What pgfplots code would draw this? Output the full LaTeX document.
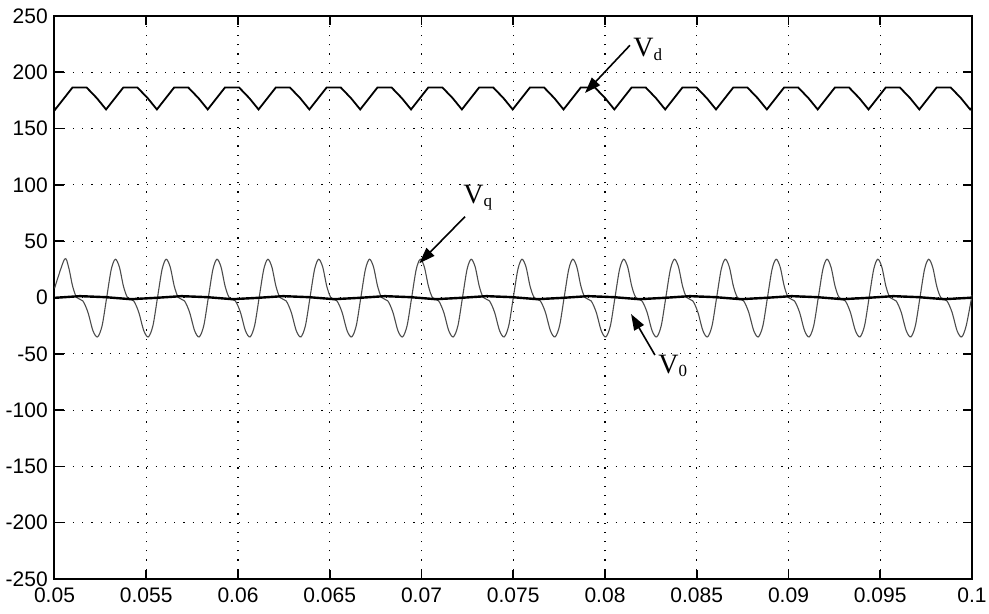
\documentclass[border=0pt]{standalone}
\usepackage{fontspec}
\setmainfont{Liberation Sans}
\newfontfamily\tnr{Liberation Serif}
\usepackage{pgfplots}
\pgfplotsset{compat=1.18}
\usetikzlibrary{arrows.meta}

\newcommand{\lbl}[2]{{\tnr\fontsize{14}{15}\selectfont V\raisebox{-1.8pt}{\fontsize{8.5}{9}\selectfont #2}}}

\begin{document}
\begin{tikzpicture}
\useasboundingbox (0,0) rectangle (494.5pt,307pt);
\begin{axis}[
    at={(27.25pt,17.5pt)}, anchor=south west,
    scale only axis,
    width=458.75pt, height=281.5pt,
    xmin=0.05, xmax=0.1,
    ymin=-250, ymax=250,
    xtick={0.05,0.055,0.06,0.065,0.07,0.075,0.08,0.085,0.09,0.095,0.1},
    xticklabels={0.05,0.055,0.06,0.065,0.07,0.075,0.08,0.085,0.09,0.095,0.1},
    ytick={-250,-200,-150,-100,-50,0,50,100,150,200,250},
    yticklabels={-250,-200,-150,-100,-50,0,50,100,150,200,250},
    grid=major,
    major grid style={black, line width=0.55pt, dash pattern=on 0.6pt off 4pt},
    tick align=inside,
    major tick length=4.5pt,
    tick style={black, line width=0.8pt},
    axis line style={line width=1pt},
    every tick label/.append style={font=\fontsize{10.5}{12}\selectfont},
    yticklabel style={inner sep=0pt, xshift=-3.2pt},
    xticklabel style={inner sep=0pt, yshift=-4pt},
]
% Vq
\addplot[black!70, line width=0.55pt, smooth, tension=0.5] coordinates {
(0.05,8)
(0.050545,34) (0.050767,27) (0.050988,10) (0.051210,0) (0.051542,-3) (0.051819,-13) (0.052096,-29.5) (0.052346,-35) (0.052595,-25) (0.052844,0) (0.053093,25)
(0.053315,34) (0.053537,27) (0.053758,10) (0.053980,0) (0.054312,-3) (0.054589,-13) (0.054866,-29.5) (0.055116,-35) (0.055365,-25) (0.055614,0) (0.055863,25)
(0.056085,34) (0.056307,27) (0.056528,10) (0.056750,0) (0.057082,-3) (0.057359,-13) (0.057636,-29.5) (0.057886,-35) (0.058135,-25) (0.058384,0) (0.058633,25)
(0.058855,34) (0.059077,27) (0.059298,10) (0.059520,0) (0.059852,-3) (0.060129,-13) (0.060406,-29.5) (0.060656,-35) (0.060905,-25) (0.061154,0) (0.061403,25)
(0.061625,34) (0.061847,27) (0.062068,10) (0.062290,0) (0.062622,-3) (0.062899,-13) (0.063176,-29.5) (0.063426,-35) (0.063675,-25) (0.063924,0) (0.064173,25)
(0.064395,34) (0.064617,27) (0.064838,10) (0.065060,0) (0.065392,-3) (0.065669,-13) (0.065946,-29.5) (0.066196,-35) (0.066445,-25) (0.066694,0) (0.066943,25)
(0.067165,34) (0.067387,27) (0.067608,10) (0.067830,0) (0.068162,-3) (0.068439,-13) (0.068716,-29.5) (0.068966,-35) (0.069215,-25) (0.069464,0) (0.069713,25)
(0.069935,34) (0.070157,27) (0.070378,10) (0.070600,0) (0.070932,-3) (0.071209,-13) (0.071486,-29.5) (0.071736,-35) (0.071985,-25) (0.072234,0) (0.072483,25)
(0.072705,34) (0.072927,27) (0.073148,10) (0.073370,0) (0.073702,-3) (0.073979,-13) (0.074256,-29.5) (0.074506,-35) (0.074755,-25) (0.075004,0) (0.075253,25)
(0.075475,34) (0.075697,27) (0.075918,10) (0.076140,0) (0.076472,-3) (0.076749,-13) (0.077026,-29.5) (0.077276,-35) (0.077525,-25) (0.077774,0) (0.078023,25)
(0.078245,34) (0.078467,27) (0.078688,10) (0.078910,0) (0.079242,-3) (0.079519,-13) (0.079796,-29.5) (0.080046,-35) (0.080295,-25) (0.080544,0) (0.080793,25)
(0.081015,34) (0.081237,27) (0.081458,10) (0.081680,0) (0.082012,-3) (0.082289,-13) (0.082566,-29.5) (0.082816,-35) (0.083065,-25) (0.083314,0) (0.083563,25)
(0.083785,34) (0.084007,27) (0.084228,10) (0.084450,0) (0.084782,-3) (0.085059,-13) (0.085336,-29.5) (0.085586,-35) (0.085835,-25) (0.086084,0) (0.086333,25)
(0.086555,34) (0.086777,27) (0.086998,10) (0.087220,0) (0.087552,-3) (0.087829,-13) (0.088106,-29.5) (0.088356,-35) (0.088605,-25) (0.088854,0) (0.089103,25)
(0.089325,34) (0.089547,27) (0.089768,10) (0.089990,0) (0.090322,-3) (0.090599,-13) (0.090876,-29.5) (0.091126,-35) (0.091375,-25) (0.091624,0) (0.091873,25)
(0.092095,34) (0.092317,27) (0.092538,10) (0.092760,0) (0.093092,-3) (0.093369,-13) (0.093646,-29.5) (0.093896,-35) (0.094145,-25) (0.094394,0) (0.094643,25)
(0.094865,34) (0.095087,27) (0.095308,10) (0.095530,0) (0.095862,-3) (0.096139,-13) (0.096416,-29.5) (0.096666,-35) (0.096915,-25) (0.097164,0) (0.097413,25)
(0.097635,34) (0.097857,27) (0.098078,10) (0.098300,0) (0.098632,-3) (0.098909,-13) (0.099186,-29.5) (0.099436,-35) (0.099685,-25) (0.1,2)
};
% V0
\addplot[black, line width=1.2pt] coordinates {
(0.05,-0.3) (0.051385,1.2) (0.05277,0.3) (0.054155,-1.5) (0.05554,-0.3) (0.056925,1.2)
(0.05831,0.3) (0.059695,-1.5) (0.06108,-0.3) (0.062465,1.2) (0.06385,0.3) (0.065235,-1.5)
(0.06662,-0.3) (0.068005,1.2) (0.06939,0.3) (0.070775,-1.5) (0.07216,-0.3) (0.073545,1.2)
(0.07493,0.3) (0.076315,-1.5) (0.0777,-0.3) (0.079085,1.2) (0.08047,0.3) (0.081855,-1.5)
(0.08324,-0.3) (0.084625,1.2) (0.08601,0.3) (0.087395,-1.5) (0.08878,-0.3) (0.090165,1.2)
(0.09155,0.3) (0.092935,-1.5) (0.09432,-0.3) (0.095705,1.2) (0.09709,0.3) (0.098475,-1.5)
(0.09986,-0.3) (0.1,0)
};
% Vd
\addplot[black, line width=0.9pt] coordinates {
(0.05,168.5)
(0.05004,167) (0.05045,175.5) (0.05098,186.5) (0.05175,186.5) (0.05231,177)
(0.05281,167) (0.05322,175.5) (0.05375,186.5) (0.05452,186.5) (0.05508,177)
(0.05558,167) (0.05599,175.5) (0.05652,186.5) (0.05729,186.5) (0.05785,177)
(0.05835,167) (0.05876,175.5) (0.05929,186.5) (0.06006,186.5) (0.06062,177)
(0.06112,167) (0.06153,175.5) (0.06206,186.5) (0.06283,186.5) (0.06339,177)
(0.06389,167) (0.06430,175.5) (0.06483,186.5) (0.06560,186.5) (0.06616,177)
(0.06666,167) (0.06707,175.5) (0.06760,186.5) (0.06837,186.5) (0.06893,177)
(0.06943,167) (0.06984,175.5) (0.07037,186.5) (0.07114,186.5) (0.07170,177)
(0.07220,167) (0.07261,175.5) (0.07314,186.5) (0.07391,186.5) (0.07447,177)
(0.07497,167) (0.07538,175.5) (0.07591,186.5) (0.07668,186.5) (0.07724,177)
(0.07774,167) (0.07815,175.5) (0.07868,186.5) (0.07945,186.5) (0.08001,177)
(0.08051,167) (0.08092,175.5) (0.08145,186.5) (0.08222,186.5) (0.08278,177)
(0.08328,167) (0.08369,175.5) (0.08422,186.5) (0.08499,186.5) (0.08555,177)
(0.08605,167) (0.08646,175.5) (0.08699,186.5) (0.08776,186.5) (0.08832,177)
(0.08882,167) (0.08923,175.5) (0.08976,186.5) (0.09053,186.5) (0.09109,177)
(0.09159,167) (0.09200,175.5) (0.09253,186.5) (0.09330,186.5) (0.09386,177)
(0.09436,167) (0.09477,175.5) (0.09530,186.5) (0.09607,186.5) (0.09663,177)
(0.09713,167) (0.09754,175.5) (0.09807,186.5) (0.09884,186.5) (0.09940,177)
(0.09990,167) (0.1,168.5)
};
% annotations
\draw[line width=0.8pt, -{Triangle[length=8pt,width=5.5pt]}] (axis cs:0.08136,224) -- (axis cs:0.07891,181.6);
\node[anchor=base west, inner sep=0pt] at (axis cs:0.08153,213.9) {\lbl{V}{d}};
\draw[line width=0.8pt, -{Triangle[length=8pt,width=5.5pt]}] (axis cs:0.07237,71.8) -- (axis cs:0.06988,30.4);
\node[anchor=base west, inner sep=0pt] at (axis cs:0.07226,83.9) {\lbl{V}{q}};
\draw[line width=0.8pt, -{Triangle[length=8pt,width=5.5pt]}] (axis cs:0.08272,-51.1) -- (axis cs:0.08142,-14.7);
\node[anchor=base west, inner sep=0pt] at (axis cs:0.08289,-67.3) {\lbl{V}{0}};
\end{axis}
\end{tikzpicture}
\end{document}
